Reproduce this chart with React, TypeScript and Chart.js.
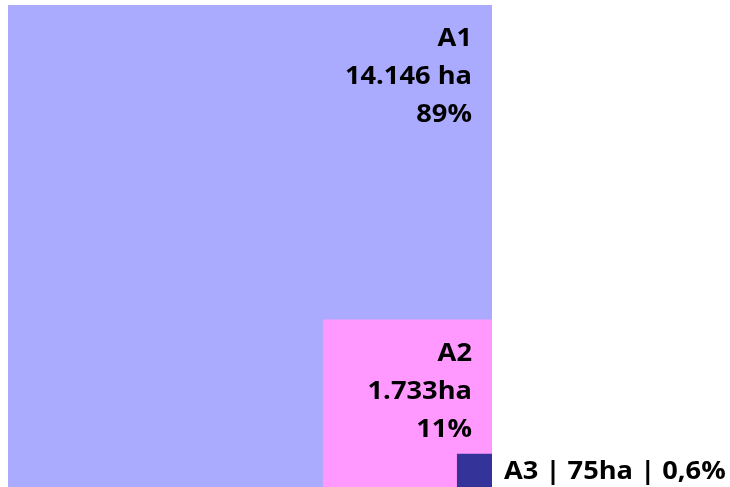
import React, { useEffect, useRef } from "react";
import { Chart, registerables } from "chart.js";

Chart.register(...registerables);

const names = ["A1", "A2", "A3"];
const areas = [14146, 1733, 75];
const areaLabels = ["14.146 ha", "1.733ha", "75ha"];
const percentLabels = ["89%", "11%", "0,6%"];
const colors = ["#AAAAFF", "#FF99FF", "#333399"];

const W = 730;
const H = 487;

export default function App() {
  const ref = useRef<HTMLCanvasElement | null>(null);

  useEffect(() => {
    if (!ref.current) return;
    const sides = areas.map((a) => Math.sqrt(a));
    const S = sides[0];
    const SX = 1.09;

    const drawText = (ctx: any, t: string, x: number, y: number, align: string) => {
      ctx.save();
      ctx.translate(x, y);
      ctx.scale(SX, 1);
      ctx.textAlign = align;
      ctx.fillText(t, 0, 0);
      ctx.restore();
    };

    const labelPlugin = {
      id: "squareLabels",
      afterDatasetsDraw(chart: any) {
        const { ctx, scales } = chart;
        const xs = scales.x;
        const ys = scales.y;
        const right = xs.getPixelForValue(S);
        ctx.save();
        ctx.fillStyle = "#000000";
        ctx.font = "bold 25px 'Open Sans'";
        ctx.textBaseline = "alphabetic";
        for (let i = 0; i < 2; i++) {
          const top = ys.getPixelForValue(sides[i]);
          const lines = [names[i], areaLabels[i], percentLabels[i]];
          lines.forEach((t, k) => {
            drawText(ctx, t, right - 20, top + 41 + k * 38, "right");
          });
        }
        const top3 = ys.getPixelForValue(sides[2]);
        drawText(
          ctx,
          `${names[2]} | ${areaLabels[2]} | ${percentLabels[2]}`,
          right + 12,
          top3 + 25,
          "left"
        );
        ctx.restore();
      },
    };

    const datasets = names.map((n, i) => ({
      label: n,
      data: [
        { x: S - sides[i], y: sides[i] },
        { x: S, y: sides[i] },
      ],
      backgroundColor: colors[i],
      borderColor: "rgba(0,0,0,0)",
      borderWidth: 0,
      pointRadius: 0,
      tension: 0,
      fill: "start",
      order: 3 - i,
    }));

    const chart = new Chart(ref.current, {
      type: "line",
      data: { datasets },
      options: {
        animation: false,
        responsive: false,
        maintainAspectRatio: false,
        layout: { padding: { left: 8, right: 238, top: 5, bottom: 0 } },
        plugins: {
          legend: { display: false },
          tooltip: { enabled: false },
        },
        scales: {
          x: { type: "linear", min: 0, max: S, display: false },
          y: { type: "linear", min: S * (1 - 482 / 484), max: S, display: false },
        },
      },
      plugins: [labelPlugin],
    });
    return () => chart.destroy();
  }, []);

  return (
    <div style={{ position: "fixed", left: 0, top: 0, width: W, height: H, background: "#ffffff" }}>
      <canvas ref={ref} width={W} height={H} style={{ display: "block" }} />
    </div>
  );
}
